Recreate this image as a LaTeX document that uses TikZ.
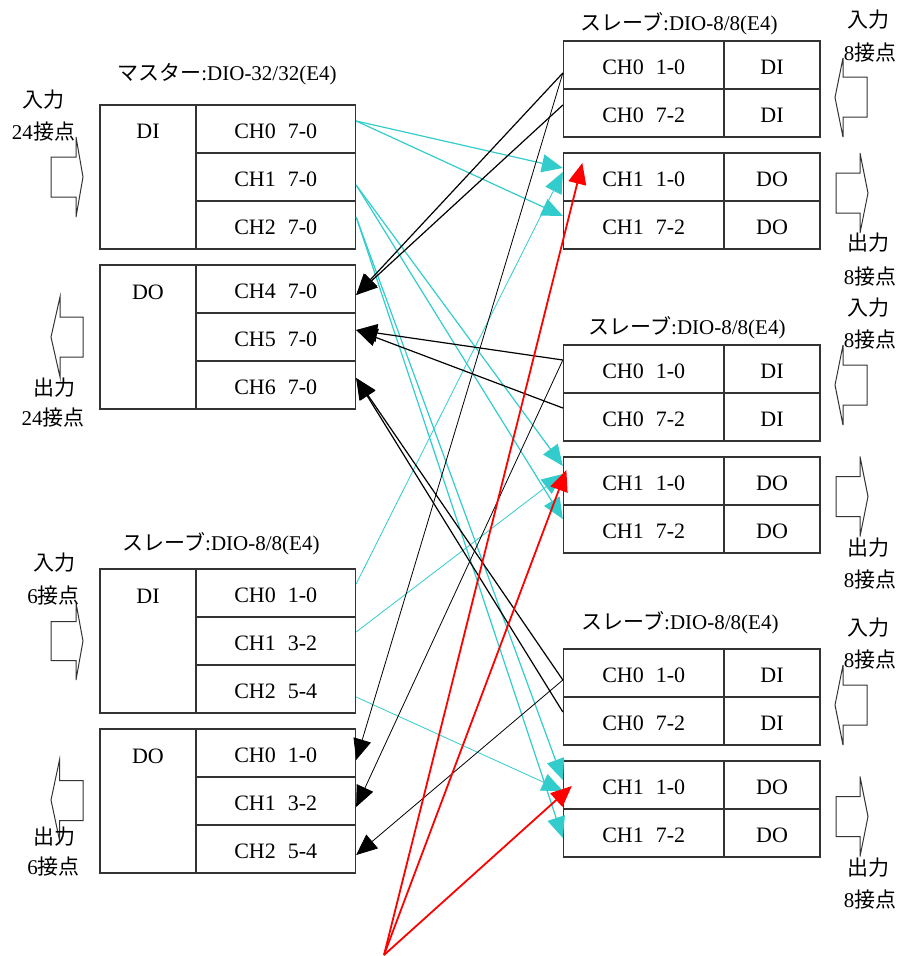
\documentclass[tikz,border=0pt]{standalone}
\usepackage{fontspec}
\setmainfont{Liberation Serif}
\newfontfamily\jp{Noto Sans CJK JP}
\usetikzlibrary{arrows.meta}
\definecolor{cy}{HTML}{33CCCC}
\definecolor{bx}{HTML}{333333}
\newcommand\chl[2]{#1\hspace{12pt}#2}
\begin{document}
\begin{tikzpicture}[x=1pt,y=-1pt,
  cell/.style={draw=bx,line width=1.3pt,inner sep=0pt,minimum height=48pt,text height=19.5pt,text depth=0pt,font=\fontsize{22}{24}\selectfont},
  lcell/.style={cell,minimum width=159.5pt},
  rcell/.style={cell,minimum width=160.5pt},
  tcell/.style={cell,minimum width=96pt},
  colbox/.style={draw=bx,line width=1.3pt,inner sep=0pt,minimum width=96pt,minimum height=144pt},
  txt/.style={inner sep=0pt,font=\fontsize{22}{24}\selectfont},
  ttl/.style={inner sep=0pt,font=\fontsize{21}{24}\selectfont},
  lab/.style={inner sep=0pt,font=\fontsize{21}{24}\selectfont},
  blk/.style={draw=bx,line width=1pt,fill=white},
  cyM/.style={draw=cy,line width=1.2pt,-{Triangle[length=21pt,width=18pt]}},
  cyS/.style={draw=cy,line width=0.8pt,-{Triangle[length=21pt,width=18pt]}},
  bkM/.style={draw=black,line width=1.2pt,-{Triangle[length=21pt,width=18pt]}},
  bkS/.style={draw=black,line width=0.8pt,-{Triangle[length=21pt,width=18pt]}},
  rdL/.style={draw=red,line width=1.8pt,-{Triangle[length=21pt,width=18pt]}}]
\useasboundingbox (0,0) rectangle (906,956);

% ---------- master ----------
\node[ttl] (mT) at (227,74) {{\jp マスター}:DIO-32/32(E4)};
\node[colbox] (mDIc) at (148,177) {};
\node[txt] (mDIt) at (148,131) {DI};
\node[lcell] (mc0) at (275.75,129) {\chl{CH0}{7-0}};
\node[lcell] (mc1) at (275.75,177) {\chl{CH1}{7-0}};
\node[lcell] (mc2) at (275.75,225) {\chl{CH2}{7-0}};
\node[colbox] (mDOc) at (148,337) {};
\node[txt] (mDOt) at (148,292) {DO};
\node[lcell] (mc4) at (275.75,289) {\chl{CH4}{7-0}};
\node[lcell] (mc5) at (275.75,337) {\chl{CH5}{7-0}};
\node[lcell] (mc6) at (275.75,385) {\chl{CH6}{7-0}};

% ---------- left slave ----------
\node[ttl] (lT) at (221,544) {{\jp スレーブ}:DIO-8/8(E4)};
\node[colbox] (lDIc) at (148,641) {};
\node[txt] (lDIt) at (148,596) {DI};
\node[lcell] (lc0) at (275.75,593) {\chl{CH0}{1-0}};
\node[lcell] (lc1) at (275.75,641) {\chl{CH1}{3-2}};
\node[lcell] (lc2) at (275.75,689) {\chl{CH2}{5-4}};
\node[colbox] (lDOc) at (148,801) {};
\node[txt] (lDOt) at (148,756) {DO};
\node[lcell] (ld0) at (275.75,753) {\chl{CH0}{1-0}};
\node[lcell] (ld1) at (275.75,801) {\chl{CH1}{3-2}};
\node[lcell] (ld2) at (275.75,849) {\chl{CH2}{5-4}};

% ---------- right slaves ----------
\node[ttl] (s1T) at (679,24) {{\jp スレーブ}:DIO-8/8(E4)};
\node[rcell] (s1a) at (643.75,65) {\chl{CH0}{1-0}};
\node[tcell] (s1A) at (772,65) {DI};
\node[rcell] (s1b) at (643.75,113) {\chl{CH0}{7-2}};
\node[tcell] (s1B) at (772,113) {DI};
\node[rcell] (s1c) at (643.75,177) {\chl{CH1}{1-0}};
\node[tcell] (s1C) at (772,177) {DO};
\node[rcell] (s1d) at (643.75,225) {\chl{CH1}{7-2}};
\node[tcell] (s1D) at (772,225) {DO};

\node[ttl] (s2T) at (687,328) {{\jp スレーブ}:DIO-8/8(E4)};
\node[rcell] (s2a) at (643.75,369) {\chl{CH0}{1-0}};
\node[tcell] (s2A) at (772,369) {DI};
\node[rcell] (s2b) at (643.75,417) {\chl{CH0}{7-2}};
\node[tcell] (s2B) at (772,417) {DI};
\node[rcell] (s2c) at (643.75,481) {\chl{CH1}{1-0}};
\node[tcell] (s2C) at (772,481) {DO};
\node[rcell] (s2d) at (643.75,529) {\chl{CH1}{7-2}};
\node[tcell] (s2D) at (772,529) {DO};

\node[ttl] (s3T) at (680,623) {{\jp スレーブ}:DIO-8/8(E4)};
\node[rcell] (s3a) at (643.75,673) {\chl{CH0}{1-0}};
\node[tcell] (s3A) at (772,673) {DI};
\node[rcell] (s3b) at (643.75,721) {\chl{CH0}{7-2}};
\node[tcell] (s3B) at (772,721) {DI};
\node[rcell] (s3c) at (643.75,785) {\chl{CH1}{1-0}};
\node[tcell] (s3C) at (772,785) {DO};
\node[rcell] (s3d) at (643.75,833) {\chl{CH1}{7-2}};
\node[tcell] (s3D) at (772,833) {DO};

% ---------- block arrows (left) ----------
\draw[blk] (51,157)--(76,157)--(76,137)--(83,177)--(76,217)--(76,197)--(51,197)--cycle;
\draw[blk] (83,317)--(60,317)--(60,297)--(51,337)--(60,377)--(60,357)--(83,357)--cycle;
\draw[blk] (51,621.5)--(76,621.5)--(76,603)--(83,641)--(76,680)--(76,660.5)--(51,660.5)--cycle;
\draw[blk] (83,780.5)--(59.5,780.5)--(59.5,760)--(51,800)--(59.5,840)--(59.5,820.5)--(83,820.5)--cycle;
\node[lab] (mIn1) at (44,100) {{\jp 入力}};
\node[lab] (mIn2) at (43.5,132) {24{\jp 接点}};
\node[lab] (mOut1) at (54,388) {{\jp 出力}};
\node[lab] (mOut2) at (53,418) {24{\jp 接点}};
\node[lab] (lIn1) at (54,563) {{\jp 入力}};
\node[lab] (lIn2) at (53.5,596) {6{\jp 接点}};
\node[lab] (lOut1) at (54,836.5) {{\jp 出力}};
\node[lab] (lOut2) at (53.5,866.5) {6{\jp 接点}};

% ---------- block arrows (right) ----------
\draw[blk] (867,77)--(843,77)--(843,58)--(835,97.5)--(843,137)--(843,117)--(867,117)--cycle;
\draw[blk] (836,173)--(860,173)--(860,153)--(868,193)--(860,233)--(860,213)--(836,213)--cycle;
\draw[blk] (867,365)--(843,365)--(843,345)--(835,385)--(843,425)--(843,405)--(867,405)--cycle;
\draw[blk] (836,476.5)--(860,476.5)--(860,456.5)--(868,496.5)--(860,536.5)--(860,516.5)--(836,516.5)--cycle;
\draw[blk] (867,685)--(843,685)--(843,665)--(835,705)--(843,745)--(843,725)--(867,725)--cycle;
\draw[blk] (836,796.5)--(860,796.5)--(860,776.5)--(868,816.5)--(860,856.5)--(860,836.5)--(836,836.5)--cycle;
\node[lab] (r1a) at (868,20) {{\jp 入力}};
\node[lab] (r1b) at (870,53) {8{\jp 接点}};
\node[lab] (r1c) at (868,243) {{\jp 出力}};
\node[lab] (r1d) at (870,277) {8{\jp 接点}};
\node[lab] (r2a) at (868,308) {{\jp 入力}};
\node[lab] (r2b) at (870,340) {8{\jp 接点}};
\node[lab] (r2c) at (868,548) {{\jp 出力}};
\node[lab] (r2d) at (870,580) {8{\jp 接点}};
\node[lab] (r3a) at (868,628) {{\jp 入力}};
\node[lab] (r3b) at (870,660) {8{\jp 接点}};
\node[lab] (r3c) at (868,868) {{\jp 出力}};
\node[lab] (r3d) at (870,900) {8{\jp 接点}};

% ---------- connectors ----------
\coordinate (src) at (384,955);
% cyan from master DI
\draw[cyM] ([yshift=8pt]mc0.east) -- ([yshift=9pt]s1c.west);
\draw[cyM] ([yshift=8pt]mc0.east) -- ([yshift=9pt]s1d.west);
\draw[cyM] ([yshift=-8pt]mc1.east) -- ([yshift=15pt]s2c.west);
\draw[cyM] ([yshift=-8pt]mc1.east) -- ([yshift=10pt]s2d.west);
\draw[cyM] ([yshift=8pt]mc2.east) -- ([yshift=5pt]s3c.west);
\draw[cyM] ([yshift=8pt]mc2.east) -- ([yshift=-5pt]s3d.west);
% cyan from left slave DI
\draw[cyS] ([yshift=9pt]lc0.east) -- ([yshift=5pt]s1c.west);
\draw[cyS] ([yshift=9pt]lc1.east) -- ([yshift=7pt]s2c.west);
\draw[cyS] ([yshift=-8pt]lc2.east) -- ([yshift=-6pt]s3c.west);
% black to master DO
\draw[bkM] ([yshift=-8pt]s1a.west) -- ([yshift=-6pt]mc4.east);
\draw[bkM] ([yshift=8pt]s1b.west) -- ([yshift=-6pt]mc4.east);
\draw[bkM] ([yshift=9pt]s2a.west) -- ([yshift=7pt]mc5.east);
\draw[bkM] ([yshift=9pt]s2b.west) -- ([yshift=7pt]mc5.east);
\draw[bkM] ([yshift=-7pt]s3a.west) -- ([yshift=7pt]mc6.east);
\draw[bkM] ([yshift=9pt]s3b.west) -- ([yshift=7pt]mc6.east);
% black to left slave DO
\draw[bkS] ([yshift=-8pt]s1a.west) -- ([yshift=-7pt]ld0.east);
\draw[bkS] ([yshift=9pt]s2a.west) -- ([yshift=-6pt]ld1.east);
\draw[bkS] ([yshift=-7pt]s3a.west) -- ([yshift=-6pt]ld2.east);
% red
\draw[rdL] (src) -- ([xshift=19.5pt,yshift=14pt]s1c.west);
\draw[rdL] (src) -- ([xshift=3.5pt,yshift=11pt]s2c.west);
\draw[rdL] (src) -- ([xshift=9pt,yshift=-1pt]s3c.west);
\end{tikzpicture}
\end{document}
